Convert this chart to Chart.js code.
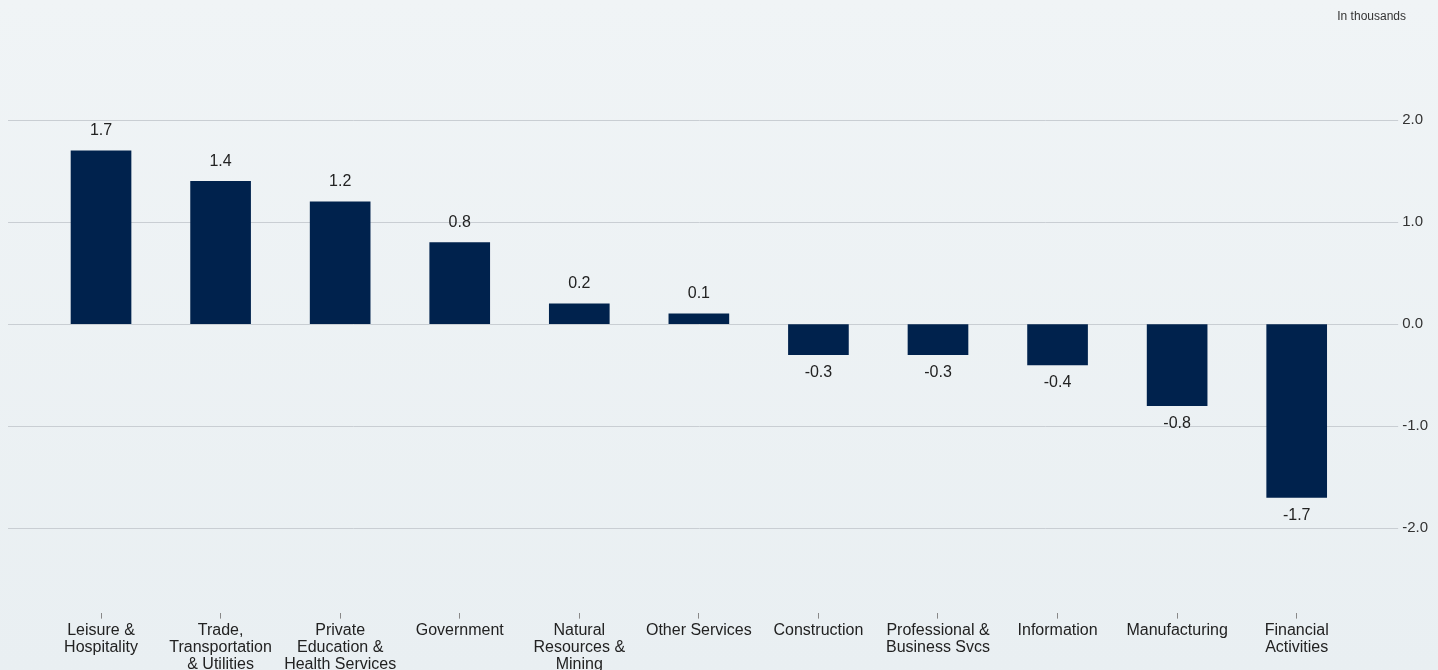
<!DOCTYPE html>
<html>
<head>
<meta charset="utf-8">
<script src="https://cdn.jsdelivr.net/npm/chart.js@4"></script>
<style>
    html, body { margin: 0; padding: 0; }
    body {
        width: 1438px;
        height: 670px;
        overflow: hidden;
        background: linear-gradient(180deg, #f0f4f6 0%, #e9eff2 100%);
        font-family: 'Liberation Sans', Arial, sans-serif;
    }
    #wrap { position: relative; width: 1438px; height: 670px; }
    #unit {
        position: absolute;
        right: 32px;
        top: 9px;
        font-size: 12px;
        color: #333;
    }
</style>
</head>
<body>
<div id="wrap">
    <div id="unit">In thousands</div>
    <canvas id="changeChart"></canvas>
</div>
<script>
const categories = [
    ['Leisure &', 'Hospitality'],
    ['Trade,', 'Transportation', '& Utilities'],
    ['Private', 'Education &', 'Health Services'],
    'Government',
    ['Natural', 'Resources &', 'Mining'],
    'Other Services',
    'Construction',
    ['Professional &', 'Business Svcs'],
    'Information',
    'Manufacturing',
    ['Financial', 'Activities']
];
const changeValues = [1.7, 1.4, 1.2, 0.8, 0.2, 0.1, -0.3, -0.3, -0.4, -0.8, -1.7];
const yTicks = [-2, -1, 0, 1, 2];

// value labels above / below each bar
const valueLabels = {
    id: 'valueLabels',
    afterDatasetsDraw(chart) {
        const ctx = chart.ctx;
        const meta = chart.getDatasetMeta(0);
        ctx.save();
        ctx.font = '16px "Liberation Sans", Arial, sans-serif';
        ctx.fillStyle = '#222';
        ctx.textAlign = 'center';
        meta.data.forEach(function (bar, i) {
            const v = changeValues[i];
            if (v >= 0) {
                ctx.textBaseline = 'bottom';
                ctx.fillText(v.toFixed(1), bar.x, bar.y - 12);
            } else {
                ctx.textBaseline = 'top';
                ctx.fillText(v.toFixed(1), bar.x, bar.y + 10);
            }
        });
        ctx.restore();
    }
};

const ctx = document.getElementById('changeChart').getContext('2d');
new Chart(ctx, {
    type: 'bar',
    data: {
        datasets: [{
            data: changeValues.map((v, i) => ({ x: i, y: v })),
            backgroundColor: '#00224d',
            borderWidth: 0,
            barThickness: 60
        }]
    },
    options: {
        responsive: true,
        maintainAspectRatio: false,
        animation: false,
        layout: { padding: { top: 32, left: 8, right: 6, bottom: -6 } },
        plugins: {
            legend: { display: false },
            tooltip: { enabled: false }
        },
        scales: {
            x: {
                type: 'linear',
                offset: false,
                min: -0.778,
                max: 10.79,
                afterBuildTicks: function (scale) {
                    scale.ticks = categories.map((_, i) => ({ value: i }));
                },
                ticks: {
                    autoSkip: false,
                    maxRotation: 0,
                    padding: 3,
                    color: '#222',
                    font: { family: '"Liberation Sans", Arial, sans-serif', size: 16, lineHeight: 1.07 },
                    callback: function (value) { return categories[value]; }
                },
                grid: {
                    offset: false,
                    drawOnChartArea: false,
                    drawTicks: true,
                    tickLength: 6,
                    color: '#888'
                },
                border: { display: false }
            },
            y: {
                position: 'right',
                min: -2.83,
                max: 2.865,
                afterBuildTicks: function (scale) {
                    scale.ticks = yTicks.map(v => ({ value: v }));
                },
                ticks: {
                    padding: 4,
                    color: '#333',
                    font: { family: '"Liberation Sans", Arial, sans-serif', size: 15 },
                    callback: function (value) { return value.toFixed(1); }
                },
                grid: {
                    color: '#c9ced3',
                    tickLength: 7,
                    lineWidth: 1
                },
                border: { display: false }
            }
        }
    },
    plugins: [valueLabels]
});
</script>
</body>
</html>
